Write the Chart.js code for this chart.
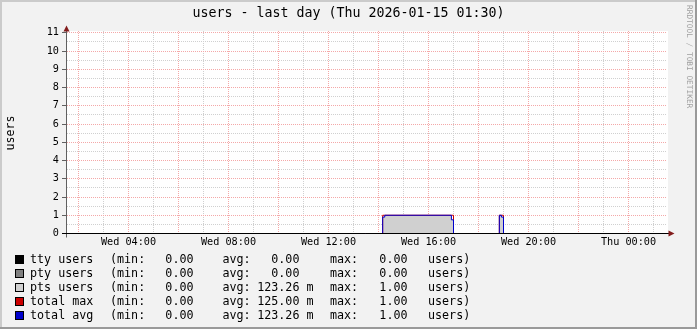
<!DOCTYPE html>
<html><head><meta charset="utf-8">
<script src="https://cdn.jsdelivr.net/npm/chart.js@4"></script>
<style>html,body{margin:0;padding:0;background:#f2f2f2;}canvas{display:block;}</style>
</head><body>
<canvas id="c" width="697" height="329"></canvas>
<script>
// Times are minutes since Wed 00:00 (window: Wed 01:30 -> Thu 01:30)
const stepTimes = [90, 850, 855, 1015, 1020, 1130, 1135, 1140, 1530];
const ttyUsers  = [0, 0, 0, 0, 0, 0, 0, 0, 0];
const ptyUsers  = [0, 0, 0, 0, 0, 0, 0, 0, 0];
const ptsUsers  = [0, 0.9, 1, 0.75, 0, 1, 0.9, 0, 0];
const totalMax  = [0, 1, 1, 1, 0, 1, 1, 0, 0];
const totalAvg  = [0, 0.9, 1, 0.75, 0, 1, 0.9, 0, 0];

const xTickValues = [240, 480, 720, 960, 1200, 1440];
const xTickLabels = ['Wed 04:00', 'Wed 08:00', 'Wed 12:00', 'Wed 16:00', 'Wed 20:00', 'Thu 00:00'];
const yTickLabels = ['0','1','2','3','4','5','6','7','8','9','10','11'];

const seriesNames  = ['tty users', 'pty users', 'pts users', 'total max', 'total avg'];
const legendMin    = ['0.00', '0.00', '0.00', '0.00', '0.00'];
const legendAvg    = ['0.00  ', '0.00  ', '123.26 m', '125.00 m', '123.26 m'];
const legendMax    = ['0.00', '0.00', '1.00', '1.00', '1.00'];
const seriesColors = ['#000000', '#808080', '#d0d0d0', '#cc0000', '#0000cc'];

const MONO = '"DejaVu Sans Mono", "Liberation Mono", monospace';
const majorGrid = 'rgb(244,168,168)';
const minorGrid = 'rgb(208,208,208)';

const pts = arr => stepTimes.map((t, i) => ({x: t, y: arr[i]}));

const decor = {
  id: 'decor',
  beforeDraw(chart) {
    const {ctx, chartArea: ca, width: W, height: H} = chart;
    ctx.save();
    ctx.fillStyle = '#f2f2f2';
    ctx.fillRect(0, 0, W, H);
    ctx.fillStyle = '#cbcbcb';
    ctx.fillRect(0, 0, W, 2);
    ctx.fillRect(0, 0, 2, H);
    ctx.fillStyle = '#9a9a9a';
    ctx.fillRect(0, H - 2, W, 2);
    ctx.fillRect(W - 2, 0, 2, H);
    ctx.fillStyle = '#ffffff';
    ctx.fillRect(ca.left, ca.top, ca.right - ca.left + 2, ca.bottom - ca.top);
    ctx.restore();
  },
  afterDraw(chart) {
    const {ctx, chartArea: ca} = chart;
    ctx.save();
    ctx.lineWidth = 1;
    ctx.strokeStyle = '#606060';
    ctx.beginPath();
    ctx.moveTo(66.5, ca.top - 1); ctx.lineTo(66.5, ca.bottom + 4);
    ctx.stroke();
    ctx.strokeStyle = '#000000';
    ctx.beginPath();
    ctx.moveTo(62, 233.5); ctx.lineTo(669, 233.5);
    ctx.stroke();
    ctx.fillStyle = '#821c1c';
    ctx.beginPath();
    ctx.moveTo(66.5, 25.5); ctx.lineTo(63.5, 31.5); ctx.lineTo(69.5, 31.5); ctx.closePath();
    ctx.fill();
    ctx.beginPath();
    ctx.moveTo(674.5, 233.5); ctx.lineTo(668.5, 230.5); ctx.lineTo(668.5, 236.5); ctx.closePath();
    ctx.fill();
    ctx.fillStyle = '#000';
    ctx.font = '13.3px ' + MONO;
    ctx.textAlign = 'center';
    ctx.textBaseline = 'middle';
    ctx.fillText('users - last day (Thu 2026-01-15 01:30)', 348.5, 14);
    ctx.save();
    ctx.translate(11, 133);
    ctx.rotate(-Math.PI / 2);
    ctx.font = '11.7px ' + MONO;
    ctx.fillText('users', 0, 0);
    ctx.restore();
    ctx.save();
    ctx.translate(689, 5);
    ctx.rotate(Math.PI / 2);
    ctx.font = '7.8px ' + MONO;
    ctx.fillStyle = '#a0a0a0';
    ctx.textAlign = 'left';
    ctx.fillText('RRDTOOL / TOBI OETIKER', 0, 0);
    ctx.restore();
    ctx.font = '11.7px ' + MONO;
    ctx.textBaseline = 'middle';
    for (let i = 0; i < seriesNames.length; i++) {
      const cy = 259.5 + i * 14;
      ctx.fillStyle = seriesColors[i];
      ctx.fillRect(15, cy - 4.5, 9, 9);
      ctx.strokeStyle = '#000';
      ctx.strokeRect(15.5, cy - 4, 8, 8);
      ctx.fillStyle = '#000';
      ctx.textAlign = 'left';
      ctx.fillText(seriesNames[i], 30, cy);
      ctx.fillText('(min:', 110, cy);
      ctx.fillText('avg:', 222.5, cy);
      ctx.fillText('max:', 330, cy);
      ctx.fillText('users)', 428, cy);
      ctx.textAlign = 'right';
      ctx.fillText(legendMin[i], 193.5, cy);
      ctx.fillText(legendAvg[i], 313.5, cy);
      ctx.fillText(legendMax[i], 407.5, cy);
    }
    ctx.restore();
  }
};

const lineDs = (label, arr, color, order) => ({
  label, data: pts(arr), borderColor: color, borderWidth: 1,
  stepped: 'before', pointRadius: 0, fill: false, order
});

new Chart(document.getElementById('c'), {
  type: 'line',
  data: {
    datasets: [
      lineDs('tty users', ttyUsers, seriesColors[0], 0),
      lineDs('total avg', totalAvg, seriesColors[4], 1),
      lineDs('total max', totalMax, seriesColors[3], 2),
      {label: 'pts users', data: pts(ptsUsers), borderWidth: 0, borderColor: 'rgba(0,0,0,0)',
       backgroundColor: seriesColors[2], fill: 'origin', stepped: 'before', pointRadius: 0, order: 3},
      lineDs('pty users', ptyUsers, seriesColors[1], 4)
    ]
  },
  options: {
    responsive: false,
    animation: false,
    devicePixelRatio: 1,
    layout: {padding: {left: 0, right: 31, top: 31, bottom: 0}},
    plugins: {legend: {display: false}, title: {display: false}, tooltip: {enabled: false}},
    events: [],
    scales: {
      x: {
        type: 'linear', min: 90, max: 1530,
        afterFit: s => { s.height = 95.5; },
        afterBuildTicks: s => { const t = []; for (let v = 120; v <= 1500; v += 60) t.push({value: v}); s.ticks = t; },
        ticks: {
          autoSkip: false, maxRotation: 0, minRotation: 0, padding: 3, color: '#000',
          font: {family: MONO, size: 10.2},
          callback: v => { const i = xTickValues.indexOf(v); return i >= 0 ? xTickLabels[i] : ''; }
        },
        grid: {
          drawTicks: false, lineWidth: 1,
          color: c => (c.index % 2 === 0) ? majorGrid : minorGrid
        },
        border: {display: false, dash: [1, 1]}
      },
      y: {
        min: 0, max: 11.1,
        afterFit: s => { s.width = 66; },
        afterBuildTicks: s => { const t = []; for (let v = 0; v <= 11; v += 0.5) t.push({value: v}); s.ticks = t; },
        ticks: {
          autoSkip: false, padding: 3, color: '#000',
          font: {family: MONO, size: 10.2},
          callback: v => Number.isInteger(v) ? yTickLabels[v] : ''
        },
        grid: {
          drawTicks: true, tickLength: 4, lineWidth: 1,
          color: c => (c.index % 2 === 0) ? majorGrid : minorGrid,
          tickColor: c => (c.index % 2 === 0) ? '#606060' : 'rgba(0,0,0,0)'
        },
        border: {display: true, color: '#606060', width: 1, dash: [1, 1]}
      }
    }
  },
  plugins: [decor]
});
</script>
</body></html>
